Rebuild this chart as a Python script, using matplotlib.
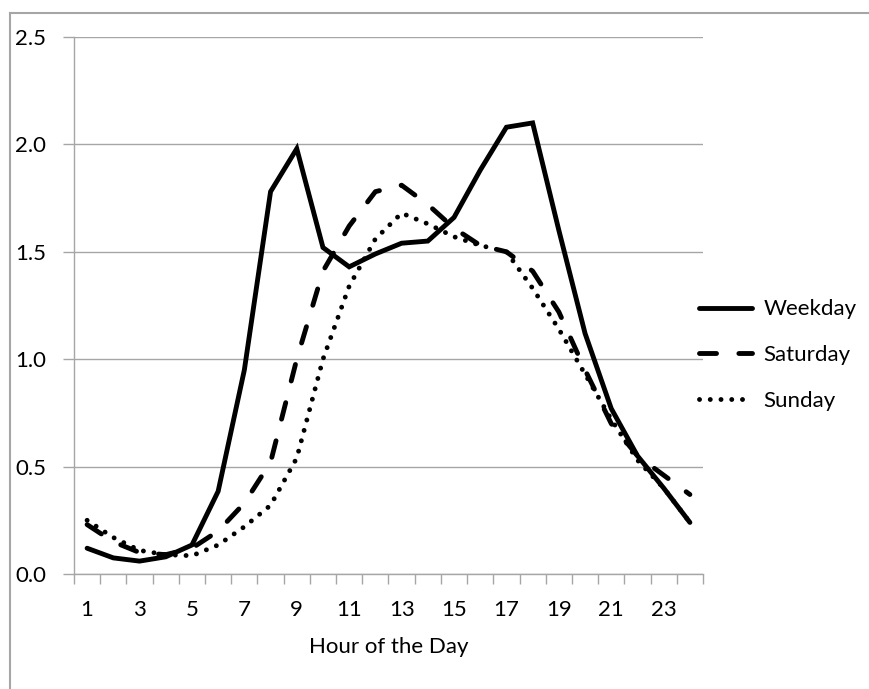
import numpy as np
import matplotlib
matplotlib.use("Agg")
import matplotlib.pyplot as plt
from matplotlib.lines import Line2D

plt.rcParams['font.family'] = ['Lato', 'DejaVu Sans']

hours = list(range(1, 25))
weekday = [0.12, 0.075, 0.06, 0.08, 0.135, 0.385, 0.95, 1.78, 1.98, 1.52, 1.43, 1.49,
           1.54, 1.55, 1.66, 1.88, 2.08, 2.10, 1.60, 1.12, 0.77, 0.55, 0.40, 0.24]
saturday = [0.23, 0.15, 0.10, 0.09, 0.12, 0.20, 0.33, 0.52, 1.00, 1.41, 1.62, 1.78,
            1.81, 1.72, 1.61, 1.53, 1.50, 1.41, 1.22, 0.95, 0.70, 0.55, 0.46, 0.37]
sunday = [0.25, 0.17, 0.11, 0.09, 0.085, 0.135, 0.22, 0.32, 0.54, 1.00, 1.34, 1.56,
          1.68, 1.63, 1.57, 1.53, 1.50, 1.33, 1.14, 0.93, 0.72, 0.53, 0.40, 0.24]
series_names = ['Weekday', 'Saturday', 'Sunday']

grey = '#a6a6a6'
W, H = 869, 689
fs = 16

fig = plt.figure(figsize=(W / 100, H / 100), dpi=100)
ax = fig.add_axes([74 / W, (H - 574) / H, (703 - 74) / W, (574 - 37) / H])

lw = 3.5
ax.plot(hours, weekday, '-', color='black', lw=lw, solid_capstyle='round',
        solid_joinstyle='miter', label=series_names[0])
ax.plot(hours, saturday, color='black', lw=lw, linestyle=(0, (3.5, 4.6)),
        dash_capstyle='round', label=series_names[1])
ax.plot(hours, sunday, color='black', lw=lw, linestyle=(0, (0.01, 2.2)),
        dash_capstyle='round', label=series_names[2])

ax.set_xlim(0.5, 24.5)
ax.set_ylim(0, 2.5)

# category axis: labels every other hour, tick marks between categories
ax.set_xticks(hours[::2])
ax.set_xticklabels([str(h) for h in hours[::2]])
ax.set_xticks(np.arange(0.5, 25, 1), minor=True)
ax.tick_params(axis='x', which='major', length=0, pad=19, labelsize=fs)
ax.tick_params(axis='x', which='minor', length=7, width=1, color=grey, direction='out')

ax.set_yticks(np.arange(0, 2.51, 0.5))
ax.set_yticklabels([f"{v:.1f}" for v in np.arange(0, 2.51, 0.5)])
ax.tick_params(axis='y', length=8, width=1, color=grey, pad=12, labelsize=fs)

ax.yaxis.grid(True, color=grey, lw=1)
ax.set_axisbelow(True)
for s in ['top', 'right']:
    ax.spines[s].set_visible(False)
for s in ['left', 'bottom']:
    ax.spines[s].set_color(grey)
    ax.spines[s].set_linewidth(1)

ax.set_xlabel('Hour of the Day', fontsize=fs, labelpad=12)

leg = ax.legend(loc='center left', bbox_to_anchor=(688 / W, (H - 355) / H),
                bbox_transform=fig.transFigure, frameon=False, fontsize=fs,
                handlelength=2.4, labelspacing=1.15, handletextpad=0.5, borderpad=0)

# outer chart frame (top and left edges visible)
fig.add_artist(Line2D([10 / W, 1], [1 - 13 / H, 1 - 13 / H], color=grey, lw=1.5,
                      transform=fig.transFigure))
fig.add_artist(Line2D([10 / W, 10 / W], [0, 1 - 13 / H], color=grey, lw=1.5,
                      transform=fig.transFigure))

fig.savefig('out.png', dpi=100)
